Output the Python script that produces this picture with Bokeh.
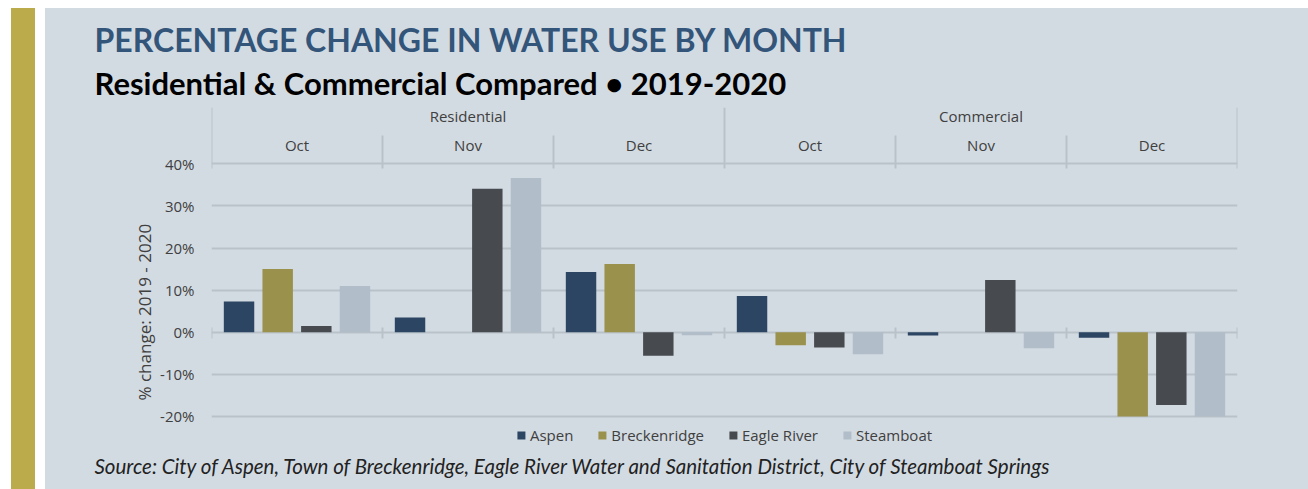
from bokeh.plotting import figure
from bokeh.models import (FactorRange, Range1d, ColumnDataSource, FixedTicker,
                          PrintfTickFormatter, Legend, LegendItem, Title)
from bokeh.transform import dodge
from bokeh.core.properties import value
from bokeh.embed import file_html
from bokeh.resources import INLINE

# ---------------- data ----------------
groups = ["Residential", "Commercial"]
months = ["Oct", "Nov", "Dec"]
series = ["Aspen", "Breckenridge", "Eagle River", "Steamboat"]
aspen = [7.3, 3.5, 14.3, 8.6, -0.8, -1.3]
breckenridge = [15.0, float("nan"), 16.2, -3.1, float("nan"), -20.0]
eagle_river = [1.5, 34.1, -5.6, -3.6, 12.4, -17.3]
steamboat = [11.0, 36.6, -0.7, -5.2, -3.8, -20.0]
y_ticks = [-20, -10, 0, 10, 20, 30, 40]

title = "PERCENTAGE CHANGE IN WATER USE BY MONTH"
subtitle = "Residential & Commercial Compared \u2022 2019-2020"
y_label = "% change: 2019 - 2020"
source_note = ("Source: City of Aspen, Town of Breckenridge, Eagle River Water and "
               "Sanitation District, City of Steamboat Springs")

# ---------------- styles ----------------
PANEL = "#d3dbe2"
GOLD = "#bbab4a"
COLORS = ["#2b4562", "#9a914c", "#474a4f", "#b1bdc8"]
GRID = "#b9c1c9"
TEXT = "#404040"
TITLE = "#34557a"
FONT = "Open Sans"

factors = [(g, m) for g in groups for m in months]
src = ColumnDataSource(dict(x=factors, a=aspen, b=breckenridge, e=eagle_river, s=steamboat))

y_top = 53.37
y_bottom = -26.9
bg = ("linear-gradient(to bottom, #ffffff 0px, #ffffff 8px, rgba(255,255,255,0) 8px), "
      "linear-gradient(to right, #ffffff 0px, #ffffff 11px, %s 11px, %s 35px, "
      "#ffffff 35px, #ffffff 45px, %s 45px, %s 100%%)" % (GOLD, GOLD, PANEL, PANEL))
p = figure(x_range=FactorRange(factors=factors, factor_padding=0, group_padding=0,
                               subgroup_padding=0, range_padding=0),
           y_range=Range1d(y_bottom, y_top),
           width=1308, height=489, output_backend="svg", toolbar_location=None,
           x_axis_location=None,
           min_border_left=211, min_border_right=71, min_border_top=107, min_border_bottom=44,
           background_fill_color=PANEL, border_fill_alpha=0, outline_line_color=None,
           styles={"background": bg})

p.xgrid.visible = False
p.ygrid.ticker = FixedTicker(ticks=y_ticks)
p.ygrid.grid_line_color = GRID
p.ygrid.grid_line_width = 2

ax = p.yaxis[0]
ax.ticker = FixedTicker(ticks=y_ticks)
ax.formatter = PrintfTickFormatter(format="%d%%")
ax.axis_line_color = None
ax.major_tick_line_color = None
ax.minor_tick_line_color = None
ax.major_tick_out = 0
ax.major_tick_in = 0
ax.major_label_standoff = 17
ax.major_label_text_font = FONT
ax.major_label_text_font_size = "15px"
ax.major_label_text_color = TEXT

# bars
offsets = [-0.339, -0.113, 0.113, 0.339]
keys = ["a", "b", "e", "s"]
items = []
for key, name, color, off in zip(keys, series, COLORS, offsets):
    r = p.vbar(x=dodge("x", off, range=p.x_range), top=key, bottom=0, width=0.178,
               source=src, fill_color=color, line_color=None)
    items.append(LegendItem(label=name, renderers=[r]))

# header dividers and zero-line ticks
bounds = [(g, m, -0.5) for g, m in factors] + [(groups[-1], months[-1], 0.5)]
group_idx = [0, 3, 6]
outer = [bounds[i] for i in group_idx]
inner = [b for i, b in enumerate(bounds) if i not in group_idx]
p.segment(x0=outer, x1=outer, y0=[38.9] * len(outer), y1=[y_top] * len(outer),
          line_color=GRID, line_width=2)
p.segment(x0=inner, x1=inner, y0=[38.9] * len(inner), y1=[46.7] * len(inner),
          line_color=GRID, line_width=2)
p.segment(x0=bounds, x1=bounds, y0=[-1.5] * len(bounds), y1=[1.1] * len(bounds),
          line_color=GRID, line_width=2)

# header labels
p.text(x=groups, y=[51.4] * len(groups), text=groups, text_align="center",
       text_baseline="middle", text_font=value(FONT), text_font_size="15px", text_color=TEXT)
p.text(x=factors, y=[44.35] * len(factors), text=[m for _, m in factors], text_align="center",
       text_baseline="middle", text_font=value(FONT), text_font_size="15px", text_color=TEXT)

legend = Legend(items=items, orientation="horizontal", location="bottom_center",
                glyph_width=10, glyph_height=10, label_standoff=4, spacing=24,
                padding=0, margin=0, background_fill_alpha=0, border_line_color=None,
                label_text_font=FONT, label_text_font_size="15px", label_text_color=TEXT)
p.add_layout(legend, "center")

# titles (closest to the frame first)
p.add_layout(Title(text=subtitle, align="left", offset=-117, standoff=12,
                   text_font="Lato", text_font_size="31px", text_font_style="bold",
                   text_color="#000000"), "above")
p.add_layout(Title(text=title, align="left", offset=-117, standoff=-7,
                   text_font="Lato", text_font_size="32px", text_font_style="bold",
                   text_color=TITLE), "above")
p.add_layout(Title(text=source_note, align="left", offset=-117, standoff=12,
                   text_font="Lato", text_font_size="20.5px", text_font_style="italic",
                   text_color="#222222"), "below")
p.add_layout(Title(text=y_label, align="left", offset=45, standoff=3,
                   text_font=FONT, text_font_size="17px", text_font_style="normal",
                   text_color=TEXT), "left")

open("out.html", "w").write(file_html(p, INLINE))
